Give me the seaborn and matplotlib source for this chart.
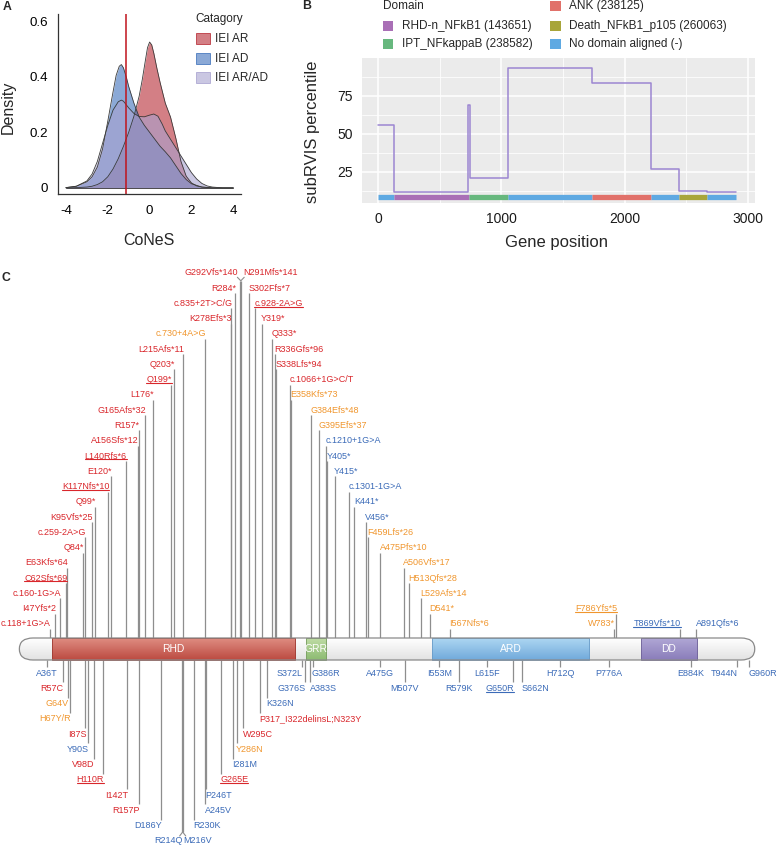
import numpy as np
import pandas as pd
import matplotlib
matplotlib.use("Agg")
import matplotlib.pyplot as plt
import seaborn as sns
from matplotlib.patches import Rectangle, FancyBboxPatch
from matplotlib.colors import to_rgb

sns.set_theme(style="white")
plt.rcParams['font.family'] = ['Liberation Sans', 'DejaVu Sans']
plt.rcParams['axes.unicode_minus'] = False

# ------------------------------------------------------------------ data
# Panel A : density of CoNeS per category
categories = ["IEI AR", "IEI AD", "IEI AR/AD"]
ar_x = [-4, -3.5, -3, -2.75, -2.5, -2.25, -2, -1.75, -1.5, -1.25, -1, -0.75, -0.5, -0.35,
        -0.2, -0.1, 0, 0.1, 0.2, 0.35, 0.5, 0.75, 1, 1.25, 1.5, 1.75, 2, 2.25, 2.5, 3, 3.5, 4]
ar_y = [0, 0.001, 0.003, 0.006, 0.012, 0.022, 0.040, 0.068, 0.105, 0.150, 0.200, 0.258, 0.330,
        0.390, 0.460, 0.505, 0.525, 0.515, 0.485, 0.430, 0.380, 0.305, 0.255, 0.180, 0.095,
        0.042, 0.018, 0.007, 0.003, 0, 0, 0]
ad_x = [-4, -3.5, -3, -2.75, -2.5, -2.25, -2, -1.75, -1.6, -1.45, -1.35, -1.25, -1.1, -1,
        -0.75, -0.5, -0.25, 0, 0.25, 0.5, 0.75, 1, 1.25, 1.5, 1.75, 2, 2.5, 3, 3.5, 4]
ad_y = [0.001, 0.006, 0.022, 0.040, 0.075, 0.140, 0.240, 0.345, 0.405, 0.438, 0.444, 0.432,
        0.395, 0.365, 0.305, 0.255, 0.225, 0.200, 0.175, 0.150, 0.130, 0.108, 0.080, 0.052,
        0.030, 0.015, 0.003, 0.0, 0.0, 0.0]
mix_x = [-4, -3.5, -3, -2.75, -2.5, -2.25, -2, -1.75, -1.5, -1.35, -1.25, -1, -0.75, -0.5,
         -0.25, 0, 0.2, 0.4, 0.6, 0.75, 1, 1.25, 1.5, 1.75, 2, 2.25, 2.5, 2.75, 3, 3.5, 4]
mix_y = [0.001, 0.006, 0.025, 0.050, 0.095, 0.160, 0.225, 0.280, 0.310, 0.316, 0.312, 0.288,
         0.268, 0.257, 0.256, 0.262, 0.266, 0.258, 0.230, 0.205, 0.175, 0.145, 0.115, 0.085,
         0.055, 0.032, 0.016, 0.007, 0.003, 0.0, 0.0]
cones_cutoff = -1.13
a_xticks = [-4, -2, 0, 2, 4]
a_yticks = [0, 0.2, 0.4, 0.6]
a_yticklabels = ["0", "0.2", "0.4", "0.6"]

# Panel B : subRVIS step profile and domains
step_pos = [0, 132, 733, 746, 1057, 1733, 2214, 2444, 2671, 2903]
step_val = [55.7, 11.4, 69.0, 20.6, 93.0, 83.6, 26.8, 12.5, 11.4, 11.4]
dom_start = [0, 132, 740, 1057, 1733, 2214, 2444, 2671]
dom_end = [132, 740, 1057, 1733, 2214, 2444, 2671, 2903]
dom_label = ["No domain aligned (-)", "RHD-n_NFkB1 (143651)", "IPT_NFkappaB (238582)",
             "No domain aligned (-)", "ANK (238125)", "No domain aligned (-)",
             "Death_NFkB1_p105 (260063)", "No domain aligned (-)"]
dom_legend_order = ["RHD-n_NFkB1 (143651)", "IPT_NFkappaB (238582)", "ANK (238125)",
                    "Death_NFkB1_p105 (260063)", "No domain aligned (-)"]
b_xticks = [0, 1000, 2000, 3000]
b_yticks = [25, 50, 75]

# Panel C : protein diagram
protein_len = 968
domain_names = ["RHD", "GRR", "ARD", "DD"]
domain_start = [43, 377, 543, 818]
domain_end = [363, 404, 750, 892]

top_labels = ["c.118+1G>A", "I47Yfs*2", "c.160-1G>A", "C62Sfs*69", "E63Kfs*64", "Q84*",
              "c.259-2A>G", "K95Vfs*25", "Q99*", "K117Nfs*10", "E120*", "L140Rfs*6",
              "A156Sfs*12", "R157*", "G165Afs*32", "L176*", "Q199*", "Q203*", "L215Afs*11",
              "c.730+4A>G", "K278Efs*3", "c.835+2T>C/G", "R284*", "G292Vfs*140",
              "N291Mfs*141", "S302Ffs*7", "c.928-2A>G", "Y319*", "Q333*", "R336Gfs*96",
              "S338Lfs*94", "c.1066+1G>C/T", "E358Kfs*73", "G384Efs*48", "G395Efs*37",
              "c.1210+1G>A", "Y405*", "Y415*", "c.1301-1G>A", "K441*", "V456*",
              "F459Lfs*26", "A475Pfs*10", "A506Vfs*17", "H513Qfs*28", "L529Afs*14", "D541*",
              "I567Nfs*6", "F786Yfs*5", "W783*", "T869Vfs*10", "A891Qfs*6"]
top_pos = [40, 47, 54, 62, 63, 84, 87, 95, 99, 117, 120, 140, 156, 157, 165, 176, 199, 203,
           215, 244, 278, 279, 284, 292, 291, 302, 310, 319, 333, 336, 338, 356, 358, 384,
           395, 404, 405, 415, 434, 441, 456, 459, 475, 506, 513, 529, 541, 567, 786, 783,
           869, 891]
top_class = ["r"] * 19 + ["o"] + ["r"] * 12 + ["o", "o", "o", "b", "b", "b", "b", "b", "b",
             "o", "o", "o", "o", "o", "o", "o", "o", "o", "b", "b"]
top_underline = ["C62Sfs*69", "K117Nfs*10", "L140Rfs*6", "Q199*", "c.928-2A>G",
                 "F786Yfs*5", "T869Vfs*10"]

bot_labels = ["A36T", "R57C", "G64V", "H67Y/R", "I87S", "Y90S", "V98D", "H110R", "I142T",
              "R157P", "D186Y", "R214Q", "M216V", "R230K", "A245V", "P246T", "G265E", "I281M",
              "Y286N", "W295C", "P317_I322delinsL;N323Y", "K326N", "S372L", "G376S", "G386R",
              "A383S", "A475G", "M507V", "I553M", "R579K", "L615F", "G650R", "S662N", "H712Q",
              "P776A", "E884K", "T944N", "G960R"]
bot_pos = [36, 57, 64, 67, 87, 90, 98, 110, 142, 157, 186, 214, 216, 230, 245, 246, 265, 281,
           286, 295, 317, 326, 372, 376, 386, 383, 475, 507, 553, 579, 615, 650, 662, 712, 776,
           884, 944, 960]
bot_class = ["b", "r", "o", "o", "r", "b", "r", "r", "r", "r", "b", "b", "b", "b", "b", "b",
             "r", "b", "o", "r", "r", "b", "b", "b", "b", "b", "b", "b", "b", "b", "b", "b",
             "b", "b", "b", "b", "b", "b"]
bot_underline = ["H110R", "G265E", "G650R"]

# ------------------------------------------------------------------ layout (label stacking)
top_row = [0, 1, 2, 3, 4, 5, 6, 7, 8, 9, 10, 11, 12, 13, 14, 15, 16, 17, 18, 19, 20, 21, 22, 23,
           23, 22, 21, 20, 19, 18, 17, 16, 15, 14, 13, 12, 11, 10, 9, 8, 7, 6, 5, 4, 3, 2, 1, 0,
           1, 0, 0, 0]
top_align = ["r"] * 24 + ["l"] * 24 + ["r", "r", "r", "l"]
bot_row = [0, 1, 2, 3, 4, 5, 6, 7, 8, 9, 10, 11, 11, 10, 9, 8, 7, 6, 5, 4, 3, 2, 0, 1, 0, 1,
           0, 1, 0, 1, 0, 1, 1, 0, 0, 0, 0, 0]
bot_align = ["c", "r", "r", "r", "r", "r", "r", "r", "r", "r", "r", "r", "l", "l", "l", "l",
             "l", "l", "l", "l", "l", "l", "r", "r", "l", "l", "c", "c", "c", "c", "c", "r",
             "l", "c", "c", "c", "r", "l"]

# ------------------------------------------------------------------ figure
W, H = 777, 846
fig = plt.figure(figsize=(W / 100, H / 100), dpi=100)


def box(x0, y0, x1, y1):
    return [x0 / W, 1 - y1 / H, (x1 - x0) / W, (y1 - y0) / H]


C_OFF, C_SCALE = 19.35, 0.7597  # pixel = C_OFF + C_SCALE * residue
ax_c = fig.add_axes([0, 0, 1, 1])
ax_c.set_axis_off()
ax_a = fig.add_axes(box(58, 14, 241, 194))
ax_b = fig.add_axes(box(362, 58, 755, 203))
ax_o = fig.add_axes([0, 0, 1, 1])
ax_o.set_axis_off()
ax_o.set_xlim(0, W)
ax_o.set_ylim(H, 0)

# ------------------------------------------------------------------ panel A
pal_a = {"IEI AR": "#B72A34", "IEI AD": "#3E71BB", "IEI AR/AD": "#A8A2D0"}
curves = {"IEI AR": (ar_x, ar_y), "IEI AD": (ad_x, ad_y), "IEI AR/AD": (mix_x, mix_y)}
dfA = pd.concat([pd.DataFrame({"CoNeS": curves[c][0], "Density": curves[c][1], "Catagory": c})
                 for c in categories], ignore_index=True)
for c in categories:
    sub = dfA[dfA.Catagory == c]
    ax_a.fill_between(sub.CoNeS, sub.Density, 0, color=pal_a[c], alpha=0.6, lw=0)
sns.lineplot(data=dfA, x="CoNeS", y="Density", hue="Catagory",
             palette={c: "#3A3A3A" for c in categories}, lw=0.6, ax=ax_a,
             legend=False, estimator=None, sort=False)
ax_a.plot([dfA.CoNeS.min(), dfA.CoNeS.max()], [0, 0], color="#3A3A3A", lw=0.6)
ax_a.axvline(cones_cutoff, color="#C0141C", lw=1.1)
ax_a.set_xlim(-4.38, 4.37)
ax_a.set_ylim(-0.022, 0.626)
ax_a.set_xticks(a_xticks)
ax_a.set_xticklabels([str(v) for v in a_xticks])
ax_a.set_yticks(a_yticks)
ax_a.set_yticklabels(a_yticklabels)
sns.despine(ax=ax_a)
for s in ("left", "bottom"):
    ax_a.spines[s].set_color("#333333")
    ax_a.spines[s].set_linewidth(0.9)
ax_a.tick_params(direction="out", length=4, width=0.8, color="#333333", labelsize=9.6,
                 labelcolor="black", pad=3)
ax_a.tick_params(axis="x", pad=4)
ax_a.set_xlabel("CoNeS", fontsize=11.5)
ax_a.set_ylabel("Density", fontsize=11.5)
ax_a.xaxis.set_label_coords(0.497, -0.256)
ax_a.xaxis.label.set_va("center")
ax_a.yaxis.set_label_coords(-0.27, 0.483)
ax_a.yaxis.label.set_va("center")

# legend A
ax_o.text(195.5, 19, "Catagory", fontsize=8.5, va="center", ha="left")
for i, c in enumerate(categories):
    yc = 39 + i * 19.5
    rgb = to_rgb(pal_a[c])
    ax_o.add_patch(Rectangle((195.7, yc - 5.5), 14.3, 11, facecolor=(*rgb, 0.6),
                             edgecolor=(*rgb, 0.9), lw=0.6))
    ax_o.text(215, yc, c, fontsize=8.5, va="center", ha="left")

# ------------------------------------------------------------------ panel B
dom_colors = {"RHD-n_NFkB1 (143651)": "#A96FB6", "IPT_NFkappaB (238582)": "#67B87E",
              "ANK (238125)": "#E1716A", "Death_NFkB1_p105 (260063)": "#A8A53A",
              "No domain aligned (-)": "#5EA9E2"}
ax_b.set_facecolor("#EBEBEB")
for s in ax_b.spines.values():
    s.set_visible(False)
ax_b.set_axisbelow(True)
ax_b.set_xlim(-130, 3057)
ax_b.set_ylim(4.4, 99.8)
ax_b.set_xticks(b_xticks)
ax_b.set_xticks([500, 1500, 2500], minor=True)
ax_b.set_yticks(b_yticks)
ax_b.set_yticks([12.5, 37.5, 62.5, 87.5], minor=True)
ax_b.grid(which="major", color="white", lw=1.1)
ax_b.grid(which="minor", color="white", lw=0.55)
dfB = pd.DataFrame({"Gene position": step_pos, "subRVIS percentile": step_val})
sns.lineplot(data=dfB, x="Gene position", y="subRVIS percentile", drawstyle="steps-post",
             color="#9C86D2", lw=1.1, ax=ax_b, estimator=None, sort=False)
for s, e, lab in zip(dom_start, dom_end, dom_label):
    ax_b.plot([s, e], [8.5, 8.5], color=dom_colors[lab], lw=3.8, solid_capstyle="butt")
ax_b.tick_params(which="major", length=3.5, width=0.8, color="#333333", labelsize=10,
                 labelcolor="#1a1a1a", pad=3)
ax_b.tick_params(which="minor", length=0)
ax_b.set_xlabel("Gene position", fontsize=12)
ax_b.set_ylabel("subRVIS percentile", fontsize=12)
ax_b.xaxis.set_label_coords(0.4954, -0.269)
ax_b.xaxis.label.set_va("center")
ax_b.yaxis.set_label_coords(-0.1247, 0.49)
ax_b.yaxis.label.set_va("center")

# legend B
ax_o.text(382.5, 6, "Domain", fontsize=8.5, va="center", ha="left")
leg_slots = [(382.7, 25.7), (382.7, 44.3), (550, 5.7), (550, 25.7), (550, 44.3)]
for (lx, ly), lab in zip(leg_slots, dom_legend_order):
    ax_o.add_patch(Rectangle((lx, ly - 5), 10.5, 10, facecolor=dom_colors[lab], lw=0))
    ax_o.text(lx + 19, ly, lab, fontsize=8.5, va="center", ha="left")

# ------------------------------------------------------------------ panel C
BAR_TOP, BAR_BOT = 638, 660
TOP_ROW0, BOT_ROW0, ROW_STEP = 624, 673, 15.27
FS_C = 6.5
colmap = {"r": "#D9262B", "o": "#F0962E", "b": "#3B6BB8"}
line_col = "#8E8E8E"
nudge = {"r": 1.3, "l": -0.8, "c": 0.0}  # small text offset from the stem (residues)


def grad(c_top, c_bot, n=64):
    a, b = np.array(to_rgb(c_top)), np.array(to_rgb(c_bot))
    t = np.linspace(0, 1, n)[:, None]
    return (a * (1 - t) + b * t)[:, None, :]


# bar body
rx = 18
body = FancyBboxPatch((0, BAR_TOP), protein_len, BAR_BOT - BAR_TOP,
                      boxstyle=f"round,pad=0,rounding_size={rx}",
                      mutation_aspect=11 / rx, facecolor="none", edgecolor="#8A8A8A",
                      lw=0.9, zorder=4)
ax_c.add_patch(body)
im = ax_c.imshow(grad("#FFFFFF", "#E2E2E2"), extent=[0, protein_len, BAR_BOT, BAR_TOP],
                 origin="upper", aspect="auto", zorder=2, interpolation="bilinear")
im.set_clip_path(body)
dom_grad = {"RHD": ("#DF8D82", "#BC4A41"), "GRR": ("#BFDCA5", "#8DBB72"),
            "ARD": ("#ADD6F2", "#71AADB"), "DD": ("#B0A7D5", "#8A7DBA")}
dom_edge = {"RHD": "#9E3B33", "GRR": "#7A9E63", "ARD": "#6A9CC8", "DD": "#6F6398"}
for n, s, e in zip(domain_names, domain_start, domain_end):
    ax_c.imshow(grad(*dom_grad[n]), extent=[s, e, BAR_BOT, BAR_TOP], origin="upper",
                aspect="auto", zorder=3, interpolation="bilinear")
    ax_c.add_patch(Rectangle((s, BAR_TOP), e - s, BAR_BOT - BAR_TOP, facecolor="none",
                             edgecolor=dom_edge[n], lw=0.6, zorder=3.5))
    ax_c.text((s + e) / 2, (BAR_TOP + BAR_BOT) / 2 + 0.5, n, ha="center", va="center",
              fontsize=7.4, color="white", zorder=5)

ha_map = {"r": "right", "l": "left", "c": "center"}
ul_texts = []

# top labels
pair_top = ("G292Vfs*140", "N291Mfs*141")
for lab, pos, row, al, cl in zip(top_labels, top_pos, top_row, top_align, top_class):
    y = TOP_ROW0 - row * ROW_STEP
    dx = nudge[al]
    y_line = y + 5
    if lab in pair_top:
        dx = -4 if al == "r" else 4
        y_line = y + 8
    ax_c.vlines(pos, y_line, BAR_TOP, colors=line_col, lw=0.9, zorder=1)
    t = ax_c.text(pos + dx, y, lab, ha=ha_map[al], va="center", fontsize=FS_C,
                  color=colmap[cl], zorder=5)
    if lab in top_underline:
        ul_texts.append(t)
pp = [top_pos[top_labels.index(p)] for p in pair_top]
yv = TOP_ROW0 - 23 * ROW_STEP
ax_c.plot([min(pp) - 4, np.mean(pp), max(pp) + 4], [yv + 4.5, yv + 8, yv + 4.5],
          color=line_col, lw=0.8, zorder=1)

# bottom labels
pair_bot = ("R214Q", "M216V")
for lab, pos, row, al, cl in zip(bot_labels, bot_pos, bot_row, bot_align, bot_class):
    y = BOT_ROW0 + row * ROW_STEP
    y_line = y - 6
    if lab in pair_bot:
        y_line = y - 9
    ax_c.vlines(pos, BAR_BOT, y_line, colors=line_col, lw=0.9, zorder=1)
    t = ax_c.text(pos + nudge[al], y, lab, ha=ha_map[al], va="center", fontsize=FS_C,
                  color=colmap[cl], zorder=5)
    if lab in bot_underline:
        ul_texts.append(t)
pb = [bot_pos[bot_labels.index(p)] for p in pair_bot]
yb = BOT_ROW0 + 11 * ROW_STEP
ax_c.plot([min(pb) - 3, np.mean(pb), max(pb) + 3], [yb - 5, yb - 9, yb - 5],
          color=line_col, lw=0.8, zorder=1)

ax_c.set_xlim((0 - C_OFF) / C_SCALE, (W - C_OFF) / C_SCALE)
ax_c.set_ylim(H, 0)

# panel letters
for lx, ly, L in [(3, 7, "A"), (302, 6, "B"), (2, 278, "C")]:
    ax_o.text(lx, ly, L, fontsize=8.8, fontweight="bold", ha="left", va="center")

# underlines
fig.canvas.draw()
rend = fig.canvas.get_renderer()
inv = ax_c.transData.inverted()
for t in ul_texts:
    bb = t.get_window_extent(renderer=rend)
    (x0, y0), (x1, _) = inv.transform([[bb.x0, bb.y0 + 1.2], [bb.x1, bb.y0 + 1.2]])
    ax_c.plot([x0, x1], [y0, y0], color=t.get_color(), lw=0.8, zorder=5)
ax_c.set_xlim((0 - C_OFF) / C_SCALE, (W - C_OFF) / C_SCALE)
ax_c.set_ylim(H, 0)

fig.savefig("out.png", dpi=100)
